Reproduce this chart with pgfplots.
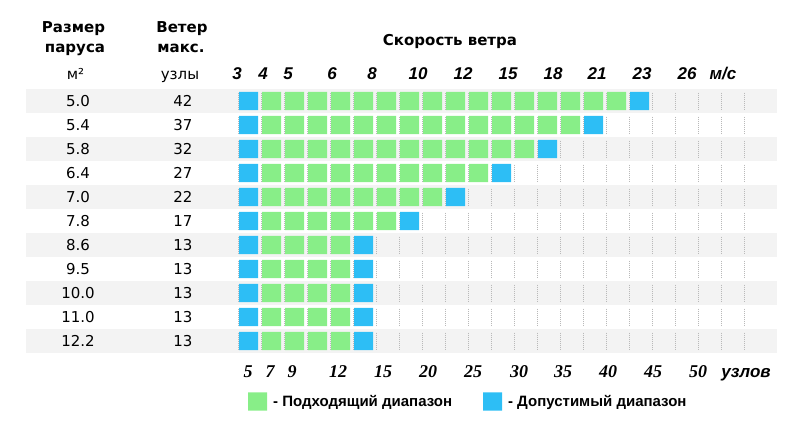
\documentclass[border=0pt]{standalone}
\usepackage{fontspec}
\setmainfont{DejaVu Sans}
\newfontfamily\lsans{Liberation Sans}
\newfontfamily\lserif{Liberation Serif}
\usepackage{pgfplots}
\pgfplotsset{compat=1.18}

\definecolor{cgreen}{RGB}{136,238,136}
\definecolor{cblue}{RGB}{45,190,245}
\definecolor{band}{RGB}{243,243,243}
\definecolor{dotc}{RGB}{185,185,185}

% rounded cell, 19 x 18.4
\pgfdeclareplotmark{cell}{%
  \pgfsetcornersarced{\pgfpoint{2.5pt}{2.5pt}}%
  \pgfpathmoveto{\pgfpoint{0pt}{-9.2pt}}%
  \pgfpathlineto{\pgfpoint{9.5pt}{-9.2pt}}%
  \pgfpathlineto{\pgfpoint{9.5pt}{9.2pt}}%
  \pgfpathlineto{\pgfpoint{-9.5pt}{9.2pt}}%
  \pgfpathlineto{\pgfpoint{-9.5pt}{-9.2pt}}%
  \pgfpathclose
  \pgfusepathqfill
}

\newcommand{\hd}{\fontsize{15}{18}\selectfont\bfseries}
\newcommand{\tx}{\fontsize{15}{18}\selectfont}
\newcommand{\topf}{\lsans\bfseries\itshape\fontsize{17}{20}\selectfont}
\newcommand{\botf}{\lserif\bfseries\itshape\fontsize{18}{20}\selectfont}

\begin{document}
\begin{tikzpicture}
\useasboundingbox (0,0) rectangle (811pt,437pt);
\begin{axis}[
    at={(0pt,0pt)}, anchor=south west,
    scale only axis, width=811pt, height=437pt,
    hide axis, clip=false,
    xmin=-10.8043, xmax=24.4565,
    ymin=-4.2083, ymax=14,
    y dir=reverse,
    legend columns=2,
    legend cell align=left,
    legend image code/.code={\path[#1] plot coordinates {(0pt,0pt)};},
    legend style={draw=none, fill=none, inner sep=0pt,
        at={(axis description cs:0.3058,0.0812)}, anchor=west,
        font=\lsans\bfseries\fontsize{15}{18}\selectfont,
        nodes={inner sep=0pt},
        /tikz/every odd column/.append style={column sep=6pt},
        /tikz/every even column/.append style={column sep=31pt}},
]

% row bands
\addplot[draw=none, fill=band, forget plot] coordinates {(-9.674,-0.5) (22.978,-0.5) (22.978,0.5) (-9.674,0.5)} -- cycle;
\addplot[draw=none, fill=band, forget plot] coordinates {(-9.674,1.5) (22.978,1.5) (22.978,2.5) (-9.674,2.5)} -- cycle;
\addplot[draw=none, fill=band, forget plot] coordinates {(-9.674,3.5) (22.978,3.5) (22.978,4.5) (-9.674,4.5)} -- cycle;
\addplot[draw=none, fill=band, forget plot] coordinates {(-9.674,5.5) (22.978,5.5) (22.978,6.5) (-9.674,6.5)} -- cycle;
\addplot[draw=none, fill=band, forget plot] coordinates {(-9.674,7.5) (22.978,7.5) (22.978,8.5) (-9.674,8.5)} -- cycle;
\addplot[draw=none, fill=band, forget plot] coordinates {(-9.674,9.5) (22.978,9.5) (22.978,10.5) (-9.674,10.5)} -- cycle;

% dotted column separators
\addplot[draw=none, mark=none, forget plot,
    error bars/.cd, y dir=plus, y explicit, error mark=none,
    error bar style={draw=dotc, line width=0.8pt,
        dash pattern=on 1pt off 1pt on 1pt off 1pt on 1pt off 1pt on 1pt off 1pt on 1pt off 1pt on 1pt off 1pt on 1pt off 1pt on 1pt off 1pt on 1pt off 7pt,
        dash phase=20.5pt}]
coordinates {
  (-0.4565,-0.5) +- (0,11) (0.5435,-0.5) +- (0,11) (1.5435,-0.5) +- (0,11)
  (2.5435,-0.5) +- (0,11) (3.5435,-0.5) +- (0,11) (4.5435,-0.5) +- (0,11)
  (5.5435,-0.5) +- (0,11) (6.5435,-0.5) +- (0,11) (7.5435,-0.5) +- (0,11)
  (8.5435,-0.5) +- (0,11) (9.5435,-0.5) +- (0,11) (10.5435,-0.5) +- (0,11)
  (11.5435,-0.5) +- (0,11) (12.5435,-0.5) +- (0,11) (13.5435,-0.5) +- (0,11)
  (14.5435,-0.5) +- (0,11) (15.5435,-0.5) +- (0,11) (16.5435,-0.5) +- (0,11)
  (17.5435,-0.5) +- (0,11) (18.5435,-0.5) +- (0,11) (19.5435,-0.5) +- (0,11)
  (20.5435,-0.5) +- (0,11) (21.5435,-0.5) +- (0,11)
};

% suitable range
\addplot[only marks, mark=cell, color=cgreen] coordinates {
  (1,0) (2,0) (3,0) (4,0) (5,0) (6,0) (7,0) (8,0) (9,0) (10,0) (11,0) (12,0) (13,0) (14,0) (15,0) (16,0)
  (1,1) (2,1) (3,1) (4,1) (5,1) (6,1) (7,1) (8,1) (9,1) (10,1) (11,1) (12,1) (13,1) (14,1)
  (1,2) (2,2) (3,2) (4,2) (5,2) (6,2) (7,2) (8,2) (9,2) (10,2) (11,2) (12,2)
  (1,3) (2,3) (3,3) (4,3) (5,3) (6,3) (7,3) (8,3) (9,3) (10,3)
  (1,4) (2,4) (3,4) (4,4) (5,4) (6,4) (7,4) (8,4)
  (1,5) (2,5) (3,5) (4,5) (5,5) (6,5)
  (1,6) (2,6) (3,6) (4,6)
  (1,7) (2,7) (3,7) (4,7)
  (1,8) (2,8) (3,8) (4,8)
  (1,9) (2,9) (3,9) (4,9)
  (1,10) (2,10) (3,10) (4,10)
};
\addlegendentry{- Подходящий диапазон}

% permissible range
\addplot[only marks, mark=cell, color=cblue] coordinates {
  (0,0) (0,1) (0,2) (0,3) (0,4) (0,5) (0,6) (0,7) (0,8) (0,9) (0,10)
  (17,0) (15,1) (13,2) (11,3) (9,4) (7,5) (5,6) (5,7) (5,8) (5,9) (5,10)
};
\addlegendentry{- Допустимый диапазон}

% sail size column
\addplot[draw=none, mark=none, forget plot, nodes near coords, point meta=explicit symbolic,
    every node near coord/.append style={anchor=center, font=\tx, text=black}]
coordinates {
  (-7.413,0) [5.0] (-7.413,1) [5.4] (-7.413,2) [5.8] (-7.413,3) [6.4]
  (-7.413,4) [7.0] (-7.413,5) [7.8] (-7.413,6) [8.6] (-7.413,7) [9.5]
  (-7.413,8) [10.0] (-7.413,9) [11.0] (-7.413,10) [12.2]
};
% max wind column
\addplot[draw=none, mark=none, forget plot, nodes near coords, point meta=explicit symbolic,
    every node near coord/.append style={anchor=center, font=\tx, text=black}]
coordinates {
  (-2.848,0) [42] (-2.848,1) [37] (-2.848,2) [32] (-2.848,3) [27]
  (-2.848,4) [22] (-2.848,5) [17] (-2.848,6) [13] (-2.848,7) [13]
  (-2.848,8) [13] (-2.848,9) [13] (-2.848,10) [13]
};
\end{axis}

\begin{scope}[x=1pt, y=-1pt, shift={(0pt,437pt)}]
  \node[anchor=base, inner sep=0pt, font=\hd] at (73.5,33) {Размер};
  \node[anchor=base, inner sep=0pt, font=\hd] at (75,53) {паруса};
  \node[anchor=base, inner sep=0pt, font=\tx] at (75.5,80) {м²};
  \node[anchor=base, inner sep=0pt, font=\hd] at (182,33) {Ветер};
  \node[anchor=base, inner sep=0pt, font=\hd] at (181,53) {макс.};
  \node[anchor=base, inner sep=0pt, font=\tx] at (180,80) {узлы};
  \node[anchor=base, inner sep=0pt, font=\hd] at (450,46) {Скорость ветра};
  \foreach \x/\t in {237/3, 263/4, 288/5, 332/6, 372/8, 418/10, 463/12, 508/15,
                     553/18, 597/21, 642/23, 687/26, 723/{м/с}}
    \node[anchor=base, inner sep=0pt, font=\topf] at (\x,80) {\t};
  \foreach \x/\t in {248/5, 270/7, 292/9, 338/12, 383/15, 428/20, 473/25,
                     519/30, 563/35, 608/40, 653/45, 698/50}
    \node[anchor=base, inner sep=0pt, font=\botf] at (\x,377) {\t};
  \node[anchor=base, inner sep=0pt, font=\topf] at (746,377) {узлов};
\end{scope}
\end{tikzpicture}
\end{document}
